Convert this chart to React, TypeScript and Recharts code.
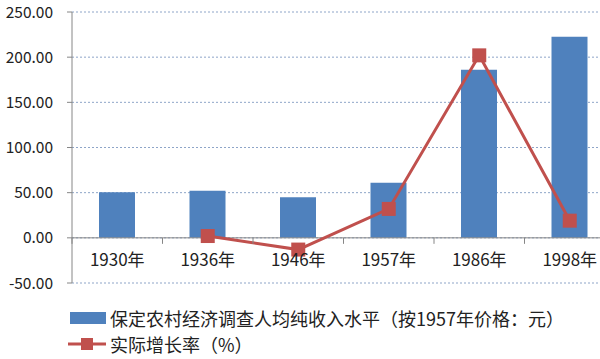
import {
  Bar,
  CartesianGrid,
  ComposedChart,
  Line,
  ReferenceLine,
  XAxis,
  YAxis,
} from 'recharts';

const years = ['1930年', '1936年', '1946年', '1957年', '1986年', '1998年'];
const income = [50.5, 52, 45, 61, 186, 222.5];
const growth: (number | null)[] = [null, 2, -13, 32, 202, 19];
const yTicks = [-50, 0, 50, 100, 150, 200, 250];

const INCOME_NAME = '保定农村经济调查人均纯收入水平（按1957年价格：元）';
const GROWTH_NAME = '实际增长率（%）';

const BLUE = '#4f81bd';
const RED = '#c0504d';
const AXIS = '#868686';

const CHART_W = 615;
const CHART_H = 359;
const MARGIN = { top: 12, right: 0, bottom: 46, left: 0 };
const Y_AXIS_W = 72;
const X_AXIS_H = 30;

const data = years.map((year, i) => ({
  year,
  income: income[i],
  growth: growth[i],
}));

// plot geometry, used only to place the category labels at the zero line
const plotTop = MARGIN.top;
const plotHeight = CHART_H - MARGIN.top - MARGIN.bottom - X_AXIS_H;
const plotWidth = CHART_W - Y_AXIS_W - MARGIN.right - MARGIN.left;
const band = plotWidth / years.length;
const yMin = yTicks[0];
const yMax = yTicks[yTicks.length - 1];
const zeroY = plotTop + (yMax / (yMax - yMin)) * plotHeight;

const CategoryTick = (props: any) => {
  const { x, payload, index } = props;
  return (
    <g>
      {index === 0 && (
        <line x1={x - band / 2} x2={x - band / 2} y1={zeroY} y2={zeroY + 6} stroke={AXIS} />
      )}
      <line x1={x + band / 2} x2={x + band / 2} y1={zeroY} y2={zeroY + 6} stroke={AXIS} />
      <text x={x} y={zeroY + 28} textAnchor="middle" fontSize={17} fill="#222">
        {payload.value}
      </text>
    </g>
  );
};

const SquareDot = (props: any) => {
  const { cx, cy, value } = props;
  if (value == null || cx == null || cy == null) return null;
  return <rect x={cx - 7} y={cy - 7} width={14} height={14} fill={RED} />;
};

export default function App() {
  return (
    <div
      style={{
        position: 'absolute',
        left: 0,
        top: 0,
        width: 600,
        height: 359,
        overflow: 'hidden',
        background: '#fff',
        fontFamily: '"Noto Sans CJK SC", "Noto Sans", sans-serif',
      }}
    >
      <ComposedChart width={CHART_W} height={CHART_H} data={data} margin={MARGIN}>
        <CartesianGrid vertical={false} stroke="#8ea5c8" strokeDasharray="2 2" />
        <XAxis
          dataKey="year"
          axisLine={false}
          tickLine={false}
          height={X_AXIS_H}
          interval={0}
          tick={<CategoryTick />}
        />
        <YAxis
          width={Y_AXIS_W}
          domain={[yMin, yMax]}
          ticks={yTicks}
          tickFormatter={(v: number) => v.toFixed(2)}
          stroke={AXIS}
          tickSize={5}
          tickMargin={14}
          tick={{ fill: '#222', fontSize: 15.5 }}
        />
        <ReferenceLine y={0} stroke={AXIS} />
        <Bar dataKey="income" name={INCOME_NAME} fill={BLUE} barSize={36} isAnimationActive={false} />
        <Line
          dataKey="growth"
          name={GROWTH_NAME}
          stroke={RED}
          strokeWidth={3}
          dot={<SquareDot />}
          activeDot={false}
          isAnimationActive={false}
        />
      </ComposedChart>
      <div style={{ position: 'absolute', left: 68, top: 305, fontSize: 18, color: '#222' }}>
        <div style={{ display: 'flex', alignItems: 'center', height: 26 }}>
          <span style={{ width: 36, height: 12, background: BLUE, marginLeft: 2, marginRight: 4 }} />
          <span>{INCOME_NAME}</span>
        </div>
        <div style={{ display: 'flex', alignItems: 'center', height: 26, marginTop: 0 }}>
          <svg width={40} height={14} style={{ marginRight: 2 }}>
            <line x1={0} x2={38} y1={7} y2={7} stroke={RED} strokeWidth={3} />
            <rect x={13} y={1} width={12} height={12} fill={RED} />
          </svg>
          <span>{GROWTH_NAME}</span>
        </div>
      </div>
    </div>
  );
}
